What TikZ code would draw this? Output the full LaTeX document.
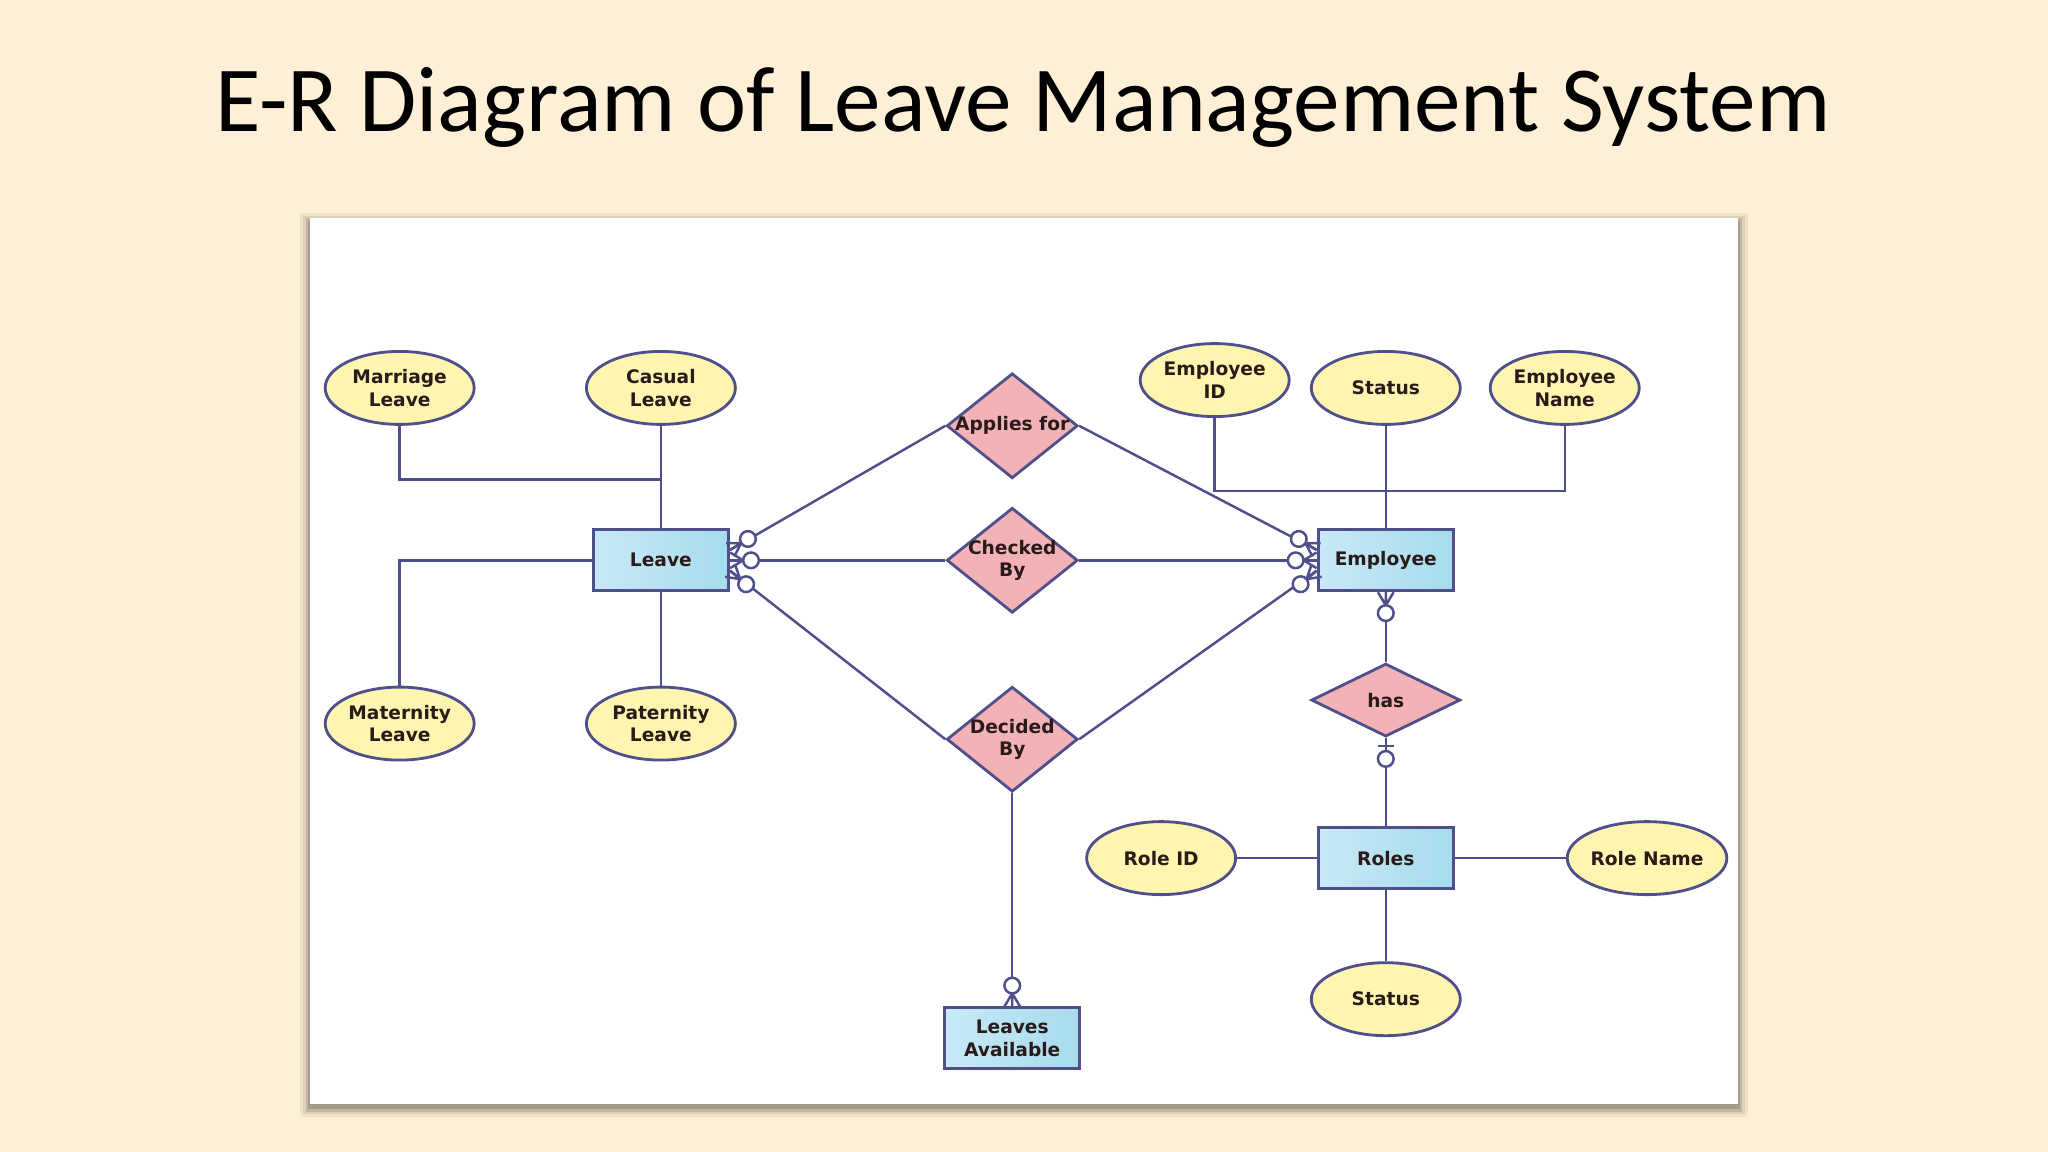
\documentclass[tikz,border=0pt]{standalone}
\usepackage{fontspec}
\setmainfont{DejaVu Sans}
\newfontfamily\titlefont{Carlito}
\usetikzlibrary{shapes.geometric}
\definecolor{cream}{HTML}{FEF0D6}
\definecolor{edgeblue}{HTML}{4F4F8C}
\definecolor{attrfill}{HTML}{FDF5B0}
\definecolor{relfill}{HTML}{F2B2B6}
\definecolor{entleft}{HTML}{C9E9F6}
\definecolor{entright}{HTML}{A6DCEC}
\definecolor{inktext}{HTML}{2A1A1A}

\tikzset{
  erfont/.style={text=inktext, font=\fontsize{5.3}{6.4}\selectfont\bfseries, align=center},
  attr/.style={ellipse, draw=edgeblue, line width=0.8pt, fill=attrfill, minimum width=1.49cm, minimum height=0.73cm, inner sep=0pt, erfont},
  rel/.style={diamond, draw=edgeblue, line width=0.8pt, fill=relfill, minimum width=1.31cm, minimum height=1.05cm, inner sep=0pt},
  ent/.style={rectangle, draw=edgeblue, line width=0.8pt, left color=entleft, right color=entright, minimum width=1.35cm, minimum height=0.61cm, inner sep=0pt, erfont},
  link/.style={draw=edgeblue, line width=0.7pt}
}

% zero-or-many end: #1 = point at the entity, #2 = angle away from it
\newcommand\zeromany[2]{%
  \begin{scope}[shift={(#1)}, rotate=#2, x=0.013061cm, y=0.013061cm]
    \draw[link] (10,0) -- (0,6) (10,0) -- (0,0) (10,0) -- (0,-6);
    \draw[link, fill=white] (16,0) circle (6);
  \end{scope}}
% zero-or-one end
\newcommand\zeroone[2]{%
  \begin{scope}[shift={(#1)}, rotate=#2, x=0.013061cm, y=0.013061cm]
    \draw[link] (6,-6) -- (6,6);
    \draw[link, fill=white] (16,0) circle (6);
  \end{scope}}

\begin{document}
\begin{tikzpicture}[x=0.013061cm, y=-0.013061cm]
  \fill[cream] (0,0) rectangle (1568,882);
  \useasboundingbox (0,0) rectangle (1568,882);

  % panel with soft shadow
  \foreach \d/\op in {7/0.05, 5/0.08, 3/0.12, 1/0.15}
    \fill[black, opacity=\op] (237-\d,167-\d+3) rectangle (1331+\d,845+\d+3);
  \fill[white] (237,167) rectangle (1331,845);

  \node[font=\titlefont\fontsize{26.5}{31}\selectfont] (title) at (783,82) {E-R Diagram of Leave Management System};

  % entities
  \node[ent] (leave) at (506,429) {Leave};
  \node[ent] (emp) at (1061,429) {Employee};
  \node[ent] (roles) at (1061,657) {Roles};
  \node[ent] (avail) at (775,795) {Leaves\\Available};

  % relationships
  \node[rel, label={[erfont]center:Applies for}] (apply) at (775,326) {};
  \node[rel, label={[erfont]center:Checked\\By}] (check) at (775,429) {};
  \node[rel, label={[erfont]center:Decided\\By}] (decide) at (775,566) {};
  \node[rel, minimum width=1.49cm, minimum height=0.73cm, label={[erfont]center:has}] (has) at (1061,536) {};

  % attributes
  \node[attr] (marriage) at (306,297) {Marriage\\Leave};
  \node[attr] (casual) at (506,297) {Casual\\Leave};
  \node[attr] (maternity) at (306,554) {Maternity\\Leave};
  \node[attr] (paternity) at (506,554) {Paternity\\Leave};
  \node[attr] (empid) at (930,291) {Employee\\ID};
  \node[attr] (empstatus) at (1061,297) {Status};
  \node[attr] (empname) at (1198,297) {Employee\\Name};
  \node[attr] (roleid) at (889,657) {Role ID};
  \node[attr] (rolename) at (1261,657) {Role Name};
  \node[attr] (rolestatus) at (1061,765) {Status};

  % attribute links
  \draw[link] (marriage.south) |- (506,367);
  \draw[link] (casual.south) -- (leave.north);
  \draw[link] (maternity.north) |- (leave.west);
  \draw[link] (leave.south) -- (paternity.north);
  \draw[link] (empid.south) |- (1198,376);
  \draw[link] (empname.south) |- (1061,376);
  \draw[link] (empstatus.south) -- (emp.north);
  \draw[link] (roleid.east) -- (roles.west);
  \draw[link] (roles.east) -- (rolename.west);
  \draw[link] (roles.south) -- (rolestatus.north);

  % relationship links
  \coordinate (leaveA) at (559,421);
  \coordinate (leaveC) at (559,429);
  \coordinate (leaveD) at (559,437);
  \coordinate (empA) at (1008,421);
  \coordinate (empC) at (1008,429);
  \coordinate (empD) at (1008,437);
  \draw[link] (apply.west) -- (leaveA);
  \draw[link] (apply.east) -- (empA);
  \draw[link] (check.west) -- (leaveC);
  \draw[link] (check.east) -- (empC);
  \draw[link] (decide.west) -- (leaveD);
  \draw[link] (decide.east) -- (empD);
  \draw[link] (decide.south) -- (avail.north);
  \draw[link] (emp.south) -- (has.north);
  \draw[link] (has.south) -- (roles.north);

  \zeromany{leaveA}{31.5}
  \zeromany{leaveC}{0}
  \zeromany{leaveD}{-40}
  \zeromany{empA}{148.5}
  \zeromany{empC}{180}
  \zeromany{empD}{220}
  \zeromany{emp.south}{-90}
  \zeromany{avail.north}{90}
  \zeroone{has.south}{-90}
\end{tikzpicture}
\end{document}
